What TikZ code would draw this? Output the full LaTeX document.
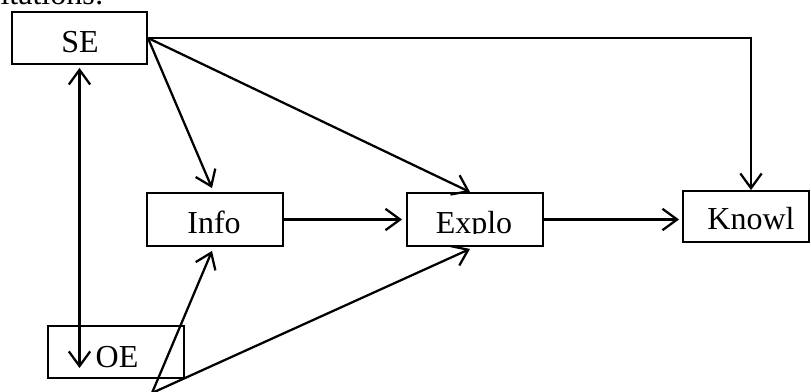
\documentclass[tikz,border=0pt]{standalone}
\usepackage{fontspec}
\setmainfont{Liberation Serif}
\usetikzlibrary{arrows.meta,calc,fit}
\begin{document}
\begin{tikzpicture}[x=0.375pt,y=-0.375pt,
  box/.style={draw,line width=0.7pt,inner sep=0pt,rectangle},
  lbl/.style={anchor=base,inner sep=0pt,font=\fontsize{12}{14}\selectfont},
  arr/.style={line width=0.85pt,-{Straight Barb[length=5.5pt,width=8pt]}},
  darr/.style={line width=0.85pt,{Straight Barb[length=5.5pt,width=8pt]}-{Straight Barb[length=5.5pt,width=8pt]}}]
\useasboundingbox (0,0) rectangle (811,392);
\clip (0,0) rectangle (811,392);

% end of the sentence above the figure
\node[lbl,anchor=base west] (cap) at (0,5) {itations:};

% boxes
\node[box,fit={(12,12) (147,64)}] (se) {};
\node[box,fit={(48,326) (184,378)}] (oe) {};
\node[box,fit={(147,193) (283,246)}] (info) {};
\node[box,fit={(407,193) (543,246)}] (explo) {};
\node[box,fit={(683,191) (809,242)}] (knowl) {};

% box texts
\node[lbl] (setext) at (80,53) {SE};
\node[lbl] (oetext) at (117,367) {OE};
\node[lbl] (infotext) at (214,233) {Info};
\begin{scope}
  \clip (407,193) rectangle (543,234);
  \node[lbl] (explotext) at (474,233) {Explo};
\end{scope}
\node[lbl] (knowltext) at (751,230) {Knowl};

% source of the two lower arrows, below the frame
\coordinate (src) at (152,393);

% connectors
\draw[arr] (se.east) -| ($(knowl.north)+(5,0)$);
\draw[arr] (se.east) -- ($(info.north)+(-3,-4)$);
\draw[arr] (se.east) -- ($(explo.north)+(-5,0)$);
\draw[arr] (info.east) -- ($(explo.west)+(-4,0)$);
\draw[arr] (explo.east) -- ($(explo.east -| knowl.west)+(-3,0)$);
\draw[darr] ($(se.south)+(0,3)$) -- ($(se.south |- oe.center)+(0,16)$);
\draw[arr] (src) -- ($(info.south)+(-3,4)$);
\draw[arr] (src) -- ($(explo.south)+(-5,2)$);
\end{tikzpicture}
\end{document}
